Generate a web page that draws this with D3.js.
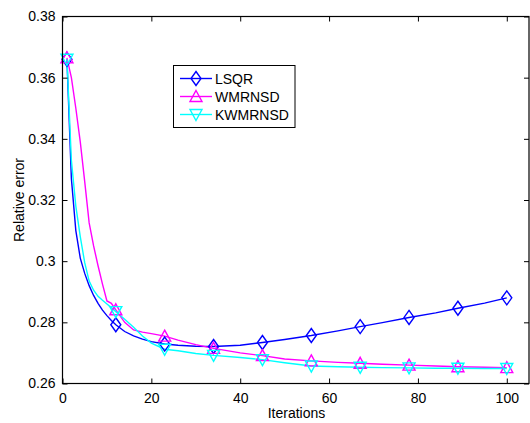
<!DOCTYPE html>
<html>
<head>
<meta charset="utf-8">
<script src="https://cdn.jsdelivr.net/npm/d3@7"></script>
<style>
  body { margin: 0; background: #fff; }
  svg text { font-family: "Liberation Sans", Arial, sans-serif; fill: #000; }
</style>
</head>
<body>
<svg id="chart" width="530" height="423"></svg>
<script>
// iteration numbers where the curves were read
var iters = [1, 2, 3, 4, 5, 6, 7, 8, 9, 10, 11, 12, 14, 16, 18, 20, 23, 26, 30, 34,
             40, 45, 50, 56, 62, 67, 72, 78, 84, 89, 95, 100];
var markerIters = [1, 12, 23, 34, 45, 56, 67, 78, 89, 100];

var lsqr = [0.366, 0.327, 0.310, 0.301, 0.296, 0.292, 0.2888, 0.2862, 0.2840, 0.2822,
            0.2806, 0.2792, 0.2770, 0.2756, 0.2745, 0.2737, 0.2729, 0.2725, 0.2722, 0.2721,
            0.2725, 0.2734, 0.2744, 0.2757, 0.2772, 0.2786, 0.2799, 0.2816, 0.2831, 0.2846,
            0.2863, 0.2880];
var wmrnsd = [0.3665, 0.360, 0.350, 0.339, 0.326, 0.3125, 0.305, 0.2985, 0.2925, 0.2870,
              0.2862, 0.2841, 0.2800, 0.2775, 0.2768, 0.2763, 0.2755, 0.2742, 0.2727, 0.2715,
              0.2700, 0.2691, 0.2680, 0.2674, 0.2669, 0.2666, 0.2663, 0.2660, 0.2657, 0.2655,
              0.2653, 0.2652];
var kwmrnsd = [0.366, 0.333, 0.318, 0.308, 0.2995, 0.2935, 0.2905, 0.2885, 0.2872, 0.2860,
               0.2848, 0.2835, 0.2810, 0.2784, 0.2755, 0.2732, 0.2712, 0.2707, 0.2698, 0.2692,
               0.2685, 0.2678, 0.2668, 0.2657, 0.2655, 0.2653, 0.2652, 0.2651, 0.2650, 0.2650,
               0.2649, 0.2649];

var seriesNames = ["LSQR", "WMRNSD", "KWMRNSD"];
var seriesColors = ["#0000ff", "#ff00ff", "#00ffff"];
var seriesMarkers = ["diamond", "up", "down"];
var xTicks = [0, 20, 40, 60, 80, 100];
var yTicks = [0.26, 0.28, 0.3, 0.32, 0.34, 0.36, 0.38];

var svg = d3.select("#chart");
var plotL = 62.5, plotR = 529, plotT = 16.5, plotB = 383.5;

var x = d3.scaleLinear().domain([0, 105]).range([plotL, plotR]);
var y = d3.scaleLinear().domain([0.26, 0.38]).range([plotB, plotT]);

var allSeries = [lsqr, wmrnsd, kwmrnsd].map(function(vals, i) {
    return {
        name: seriesNames[i],
        color: seriesColors[i],
        marker: seriesMarkers[i],
        points: iters.map(function(it, j) { return { it: it, v: vals[j] }; })
    };
});

function markerPath(type, cx, cy) {
    if (type == "diamond") {
        return "M" + cx + "," + (cy - 7) + "L" + (cx + 5) + "," + cy + "L" + cx + "," + (cy + 7) +
               "L" + (cx - 5) + "," + cy + "Z";
    }
    if (type == "up") {
        return "M" + cx + "," + (cy - 6) + "L" + (cx + 6) + "," + (cy + 5) + "L" + (cx - 6) + "," + (cy + 5) + "Z";
    }
    return "M" + cx + "," + (cy + 6) + "L" + (cx + 6) + "," + (cy - 5) + "L" + (cx - 6) + "," + (cy - 5) + "Z";
}

var line = d3.line()
    .x(function(d) { return x(d.it); })
    .y(function(d) { return y(d.v); });

var plot = svg.append("g");

allSeries.forEach(function(s) {
    plot.append("path")
        .datum(s.points)
        .attr("d", line)
        .attr("fill", "none")
        .attr("stroke", s.color)
        .attr("stroke-width", 1.4);
});

allSeries.forEach(function(s) {
    var pts = s.points.filter(function(d) { return markerIters.indexOf(d.it) >= 0; });
    plot.selectAll(null)
        .data(pts)
        .enter().append("path")
        .attr("d", function(d) { return markerPath(s.marker, x(d.it), y(d.v)); })
        .attr("fill", "none")
        .attr("stroke", s.color)
        .attr("stroke-width", 1.4);
});

// axes: ticks inside, on all four sides
var xAxis = d3.axisBottom(x).tickValues(xTicks).tickSize(-5).tickPadding(10).tickFormat(d3.format("d"));
var yAxis = d3.axisLeft(y).tickValues(yTicks).tickSize(-5).tickPadding(7)
    .tickFormat(function(d) { return String(+d.toFixed(2)); });

svg.append("g").attr("transform", "translate(0," + plotB + ")").call(xAxis);
svg.append("g").attr("transform", "translate(" + plotL + ",0)").call(yAxis);
svg.append("g").attr("transform", "translate(0," + plotT + ")")
    .call(d3.axisTop(x).tickValues(xTicks).tickSize(-5).tickFormat(""));
svg.append("g").attr("transform", "translate(" + plotR + ",0)")
    .call(d3.axisRight(y).tickValues(yTicks).tickSize(-5).tickFormat(""));

svg.selectAll(".domain").remove();
svg.selectAll(".tick line").attr("stroke", "#000");
svg.selectAll(".tick text").attr("font-size", 14).attr("fill", "#000");

svg.append("rect")
    .attr("x", plotL).attr("y", plotT)
    .attr("width", plotR - plotL).attr("height", plotB - plotT)
    .attr("fill", "none").attr("stroke", "#000").attr("stroke-width", 1.2);

svg.append("text")
    .attr("x", 296.5).attr("y", 418)
    .attr("text-anchor", "middle")
    .attr("font-size", 14)
    .text("Iterations");

svg.append("text")
    .attr("transform", "translate(24,200) rotate(-90)")
    .attr("text-anchor", "middle")
    .attr("font-size", 14)
    .text("Relative error");

// legend
var legend = svg.append("g");
legend.append("rect")
    .attr("x", 173.5).attr("y", 65.5)
    .attr("width", 121.5).attr("height", 62)
    .attr("fill", "#fff").attr("stroke", "#000").attr("stroke-width", 1);

allSeries.forEach(function(s, i) {
    var ly = 78.5 + i * 18;
    legend.append("line")
        .attr("x1", 180).attr("x2", 212)
        .attr("y1", ly).attr("y2", ly)
        .attr("stroke", s.color).attr("stroke-width", 1.4);
    legend.append("path")
        .attr("d", markerPath(s.marker, 196, ly))
        .attr("fill", "none").attr("stroke", s.color).attr("stroke-width", 1.4);
    legend.append("text")
        .attr("x", 215).attr("y", ly + 5)
        .attr("font-size", 14)
        .text(s.name);
});
</script>
</body>
</html>
